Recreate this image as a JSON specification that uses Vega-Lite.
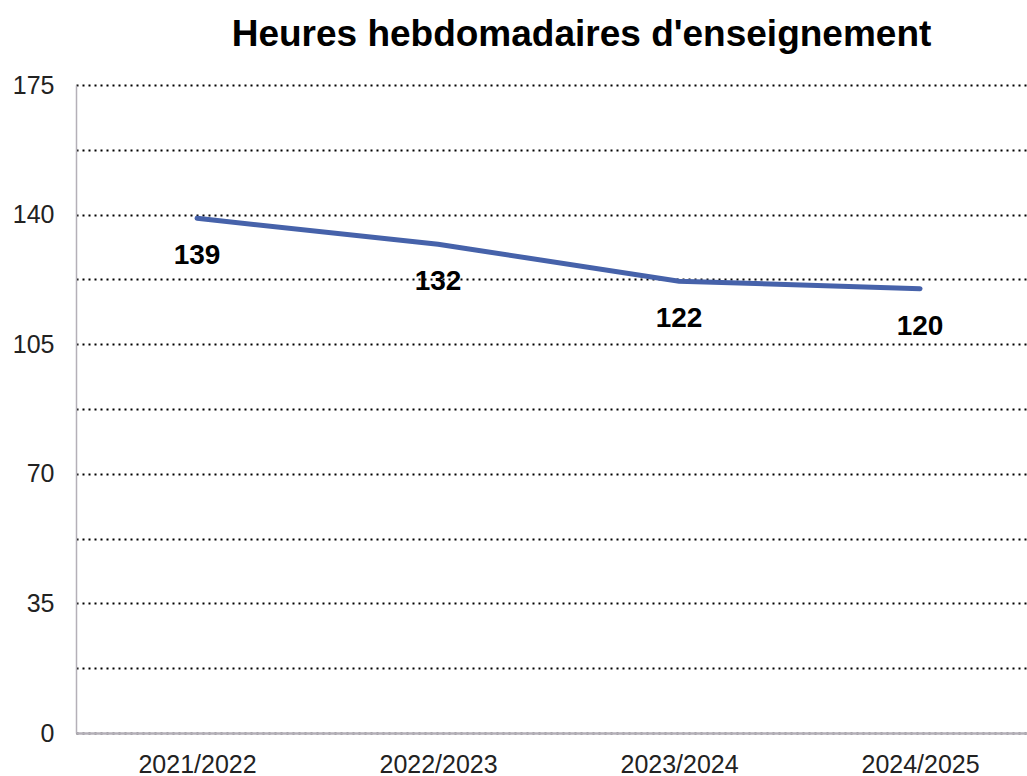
{
  "$schema": "https://vega.github.io/schema/vega-lite/v6.json",
  "width": 951,
  "height": 648,
  "autosize": {"type": "none"},
  "padding": {"left": 76, "top": 85, "right": 0, "bottom": 43},
  "background": "white",
  "title": {
    "text": "Heures hebdomadaires d'enseignement",
    "font": "Liberation Sans",
    "fontSize": 37,
    "fontWeight": "bold",
    "color": "#000000",
    "anchor": "middle",
    "dx": 30,
    "offset": 19
  },
  "config": {
    "view": {"stroke": null},
    "font": "Liberation Sans"
  },
  "data": {
    "values": [
      {"annee": "2021/2022", "heures": 139},
      {"annee": "2022/2023", "heures": 132},
      {"annee": "2023/2024", "heures": 122},
      {"annee": "2024/2025", "heures": 120}
    ]
  },
  "encoding": {
    "x": {
      "field": "annee",
      "type": "ordinal",
      "sort": null,
      "scale": {"type": "point", "padding": 0.473, "align": 0.531},
      "axis": {
        "title": null,
        "labelAngle": 0,
        "labelFont": "Liberation Sans",
        "labelFontSize": 25,
        "labelColor": "#222222",
        "labelPadding": 19,
        "ticks": false,
        "domainColor": "#b4b0b8",
        "domainWidth": 2.5,
        "grid": false,
        "zindex": 1
      }
    },
    "y": {
      "field": "heures",
      "type": "quantitative",
      "scale": {"domain": [0, 175], "nice": false},
      "axis": {
        "title": null,
        "values": [0, 17.5, 35, 52.5, 70, 87.5, 105, 122.5, 140, 157.5, 175],
        "labelExpr": "datum.value % 35 == 0 ? datum.label : ''",
        "labelFont": "Liberation Sans",
        "labelFontSize": 25,
        "labelColor": "#222222",
        "labelPadding": 22,
        "ticks": false,
        "domainColor": "#b4b0b8",
        "domainWidth": 1.5,
        "grid": true,
        "gridColor": "#000000",
        "gridWidth": 2,
        "gridDash": [2, 4],
        "gridOpacity": 1
      }
    }
  },
  "layer": [
    {
      "mark": {"type": "line", "color": "#4662AA", "strokeWidth": 5, "strokeCap": "round"}
    },
    {
      "mark": {"type": "text", "font": "Liberation Sans", "fontSize": 28, "fontWeight": "bold", "color": "#000000", "dy": 38, "baseline": "middle"},
      "encoding": {"text": {"field": "heures", "type": "quantitative"}}
    }
  ]
}
